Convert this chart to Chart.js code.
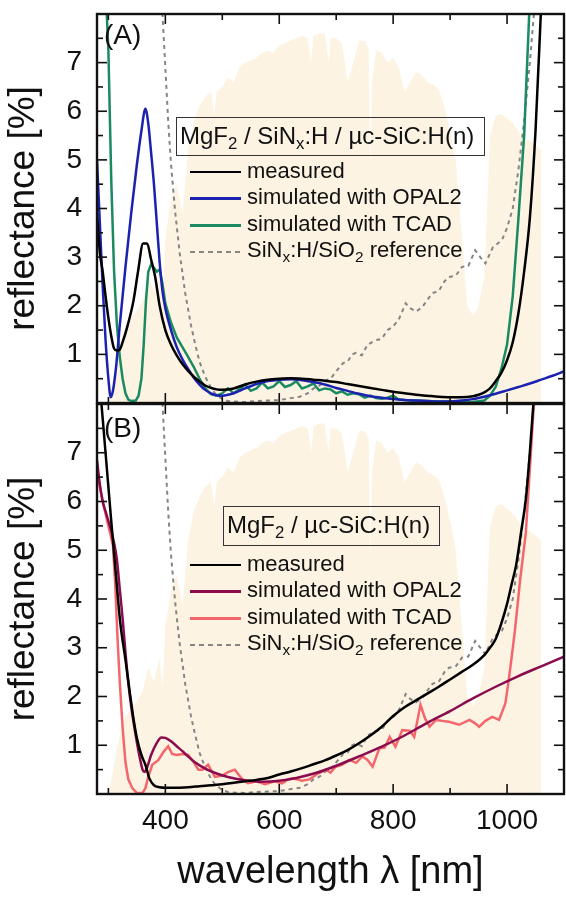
<!DOCTYPE html>
<html>
<head>
<meta charset="utf-8">
<title>Reflectance</title>
<script src="https://cdn.jsdelivr.net/npm/chart.js@4.4.1/dist/chart.umd.min.js"></script>
<style>
  body { margin: 0; background: #fff; font-family: "Liberation Sans", Arial, sans-serif; color: #111; }
  #wrap { position: relative; width: 566px; height: 898px; overflow: hidden; }
  canvas { position: absolute; left: 0; }
  #chartA { top: 0; z-index: 1; }
  #chartB { top: 398px; z-index: 2; }
  .txt { position: absolute; white-space: nowrap; z-index: 3; }
  .box { border: 1.5px solid #333; font-size: 24px; line-height: 36px; padding: 0 3px; box-sizing: border-box; }
  .row { font-size: 22px; line-height: 26px; }
  .panel { font-size: 28px; line-height: 32px; }
  .sw { position: absolute; width: 51px; height: 2.5px; z-index: 3; }
  .sub { font-size: 0.7em; position: relative; top: 0.32em; }
</style>
</head>
<body>
<div id="wrap">
  <canvas id="chartA" width="566" height="410"></canvas>
  <canvas id="chartB" width="566" height="500"></canvas>
</div>
<script>
// axis ticks
const xTickValues = [400, 600, 800, 1000];
const yTickValues = [1, 2, 3, 4, 5, 6, 7];

// AM1.5 photon flux, arbitrary scale (background)
const spectrum = [
  [300, 0], [305, 0.3], [310, 0.6], [315, 0.9], [320, 1.2], [330, 1.6], [340, 1.75], [350, 1.9],
  [360, 2.1], [370, 2.6], [380, 2.3], [390, 2.8], [395, 2.2], [400, 3.4], [410, 4.2], [420, 4.5],
  [430, 3.9], [440, 5.2], [450, 5.8], [460, 6.1], [470, 6.3], [480, 6.4], [486, 5.9], [490, 6.4],
  [500, 6.5], [510, 6.7], [520, 6.6], [530, 6.9], [540, 7.0], [550, 7.05], [560, 7.1], [570, 7.2],
  [580, 7.25], [590, 7.2], [600, 7.35], [610, 7.4], [620, 7.45], [630, 7.5], [640, 7.55], [650, 7.5],
  [656, 7.0], [660, 7.55], [670, 7.6], [680, 7.6], [687, 7.0], [690, 7.5], [700, 7.5], [710, 7.4],
  [720, 6.6], [730, 7.0], [740, 7.45], [750, 7.45], [757, 7.3], [760, 4.8], [763, 6.6], [770, 7.25],
  [780, 7.2], [790, 7.0], [800, 7.1], [810, 6.9], [820, 6.4], [830, 6.6], [840, 6.8], [850, 6.75],
  [860, 6.6], [870, 6.55], [880, 6.45], [890, 6.1], [900, 5.6], [910, 5.0], [920, 3.5], [930, 2.0],
  [940, 1.8], [950, 2.0], [960, 2.6], [965, 4.0], [970, 5.5], [980, 5.9], [990, 5.95], [1000, 5.85],
  [1010, 5.75], [1020, 5.6], [1030, 5.4], [1040, 5.4], [1050, 5.3], [1060, 5.2]
];

// (A) MgF2 / SiNx:H / uc-SiC:H(n)
const measuredA = [
  [280, 3.9], [285, 3.1], [290, 2.7], [295, 2.2], [300, 1.75], [305, 1.38], [310, 1.12], [315, 1.08],
  [320, 1.1], [325, 1.25], [333, 1.56], [344, 2.1], [352, 2.7], [361, 3.28], [368, 3.28], [375, 2.95],
  [382, 2.6], [390, 2.0], [400, 1.5], [410, 1.2], [420, 0.98], [430, 0.8], [440, 0.66], [450, 0.54],
  [460, 0.44], [470, 0.36], [480, 0.31], [490, 0.28], [500, 0.27], [520, 0.3], [540, 0.38], [560, 0.44],
  [580, 0.48], [600, 0.5], [620, 0.51], [640, 0.5], [660, 0.48], [680, 0.46], [700, 0.43], [720, 0.39],
  [740, 0.35], [760, 0.31], [780, 0.27], [800, 0.23], [820, 0.2], [840, 0.17], [860, 0.15], [880, 0.13],
  [900, 0.12], [920, 0.12], [940, 0.14], [950, 0.17], [960, 0.22], [970, 0.3], [980, 0.45], [990, 0.62],
  [1000, 0.88], [1010, 1.25], [1020, 1.85], [1030, 2.7], [1040, 3.8], [1050, 5.6], [1060, 8.2]
];
const opalA = [
  [280, 5.0], [285, 3.7], [290, 2.4], [295, 1.3], [300, 0.5], [304, 0.12], [308, 0.25], [314, 0.8],
  [320, 1.6], [330, 2.8], [340, 3.9], [350, 4.9], [358, 5.6], [365, 6.05], [370, 5.75], [375, 5.15],
  [380, 4.5], [385, 3.7], [390, 2.9], [395, 2.3], [400, 1.95], [410, 1.5], [420, 1.15], [430, 0.9],
  [440, 0.7], [450, 0.52], [460, 0.38], [470, 0.27], [480, 0.2], [490, 0.16], [500, 0.15], [520, 0.2],
  [540, 0.3], [560, 0.39], [580, 0.45], [600, 0.48], [620, 0.49], [640, 0.47], [660, 0.43], [680, 0.38],
  [700, 0.31], [720, 0.25], [740, 0.19], [760, 0.14], [780, 0.11], [800, 0.08], [820, 0.06], [840, 0.05],
  [860, 0.04], [880, 0.03], [900, 0.03], [920, 0.05], [940, 0.08], [960, 0.13], [980, 0.19], [1000, 0.26],
  [1020, 0.33], [1040, 0.4], [1060, 0.48], [1080, 0.56], [1100, 0.65]
];
const tcadA = [
  [280, 11], [290, 9.5], [296, 8.3], [300, 7.25], [305, 4.6], [310, 2.7], [315, 1.6], [320, 0.95],
  [325, 0.5], [330, 0.2], [335, 0.07], [340, 0.04], [348, 0.05], [353, 0.15], [358, 0.5], [362, 1.2],
  [366, 2.1], [370, 2.7], [375, 2.85], [380, 2.78], [385, 2.7], [390, 2.75], [395, 2.45], [400, 2.05],
  [410, 1.65], [420, 1.35], [430, 1.15], [440, 0.95], [450, 0.74], [460, 0.5], [470, 0.3], [480, 0.18],
  [490, 0.15], [500, 0.2], [510, 0.3], [520, 0.2], [530, 0.28], [540, 0.38], [550, 0.25], [560, 0.3],
  [570, 0.42], [580, 0.3], [590, 0.34], [600, 0.45], [610, 0.33], [620, 0.37], [630, 0.45], [640, 0.3],
  [650, 0.34], [660, 0.4], [670, 0.26], [680, 0.3], [690, 0.28], [700, 0.2], [710, 0.24], [720, 0.17],
  [730, 0.2], [740, 0.18], [750, 0.11], [760, 0.15], [770, 0.1], [780, 0.09], [790, 0.11], [800, 0.15],
  [810, 0.07], [820, 0.06], [840, 0.05], [860, 0.04], [880, 0.03], [900, 0.03], [920, 0.02], [940, 0.02],
  [960, 0.05], [970, 0.15], [980, 0.33], [990, 0.7], [1000, 1.2], [1010, 2.2], [1020, 3.8], [1030, 5.5],
  [1040, 8.3]
];

// SiNx:H/SiO2 reference (both panels)
const reference = [
  [390, 9.5], [395, 8.0], [400, 6.9], [405, 5.8], [410, 4.9], [417, 3.96], [425, 3.1], [435, 2.25],
  [445, 1.6], [452, 1.23], [460, 0.85], [470, 0.54], [480, 0.32], [487, 0.2], [500, 0.08], [510, 0.04],
  [520, 0.03], [540, 0.02], [560, 0.04], [580, 0.05], [600, 0.06], [620, 0.1], [636, 0.13], [650, 0.2],
  [660, 0.3], [670, 0.35], [682, 0.47], [690, 0.5], [700, 0.65], [712, 0.82], [720, 0.85], [728, 1.0],
  [735, 1.03], [745, 0.98], [755, 1.2], [769, 1.29], [780, 1.32], [790, 1.5], [799, 1.56], [810, 1.72],
  [822, 2.05], [830, 1.95], [840, 1.88], [851, 1.97], [860, 2.12], [869, 2.26], [880, 2.3], [890, 2.5],
  [898, 2.59], [910, 2.62], [921, 2.8], [932, 2.82], [944, 3.14], [953, 3.0], [962, 2.87], [975, 3.2],
  [991, 3.35], [1000, 3.6], [1010, 4.0], [1020, 4.8], [1030, 5.8], [1040, 7.0], [1050, 8.4]
];

// (B) MgF2 / uc-SiC:H(n)
const measuredB = [
  [280, 9.2], [285, 8.4], [290, 7.7], [295, 7.0], [300, 6.3], [305, 5.6], [312, 4.66], [321, 3.5],
  [330, 2.75], [338, 2.05], [344, 1.55], [350, 1.15], [358, 0.8], [365, 0.6], [372, 0.32], [380, 0.18],
  [390, 0.14], [400, 0.13], [420, 0.13], [440, 0.14], [460, 0.16], [480, 0.18], [500, 0.2], [520, 0.23],
  [540, 0.26], [560, 0.29], [580, 0.33], [600, 0.4], [620, 0.46], [640, 0.53], [660, 0.61], [680, 0.69],
  [700, 0.79], [720, 0.9], [740, 1.04], [760, 1.2], [780, 1.38], [800, 1.6], [820, 1.78], [840, 1.92],
  [860, 2.06], [880, 2.2], [900, 2.35], [920, 2.5], [940, 2.65], [960, 2.85], [970, 3.0], [980, 3.18],
  [990, 3.5], [1000, 3.9], [1008, 4.3], [1016, 4.7], [1025, 5.4], [1033, 6.05], [1040, 7.0], [1048, 8.3]
];
const opalB = [
  [280, 6.85], [285, 6.35], [290, 6.0], [295, 5.8], [300, 5.6], [305, 5.4], [310, 5.15], [315, 4.8],
  [320, 4.2], [325, 3.6], [330, 2.9], [335, 2.28], [340, 1.8], [348, 1.2], [355, 0.75], [360, 0.5],
  [363, 0.45], [368, 0.55], [375, 0.8], [385, 1.05], [393, 1.16], [400, 1.15], [410, 1.08], [420, 0.98],
  [430, 0.88], [440, 0.77], [452, 0.65], [470, 0.52], [490, 0.42], [510, 0.35], [540, 0.28], [570, 0.25],
  [600, 0.27], [630, 0.33], [664, 0.43], [700, 0.58], [740, 0.77], [780, 0.97], [820, 1.2], [860, 1.46],
  [900, 1.7], [940, 1.96], [980, 2.2], [1020, 2.42], [1060, 2.62], [1100, 2.82]
];
const tcadB = [
  [280, 6.6], [290, 6.0], [300, 5.5], [305, 5.25], [308, 5.1], [312, 4.3], [316, 3.2], [320, 2.3],
  [325, 1.35], [330, 0.65], [335, 0.3], [342, 0.12], [350, 0.02], [360, 0.02], [365, 0.12], [370, 0.35],
  [377, 0.6], [388, 0.7], [396, 0.85], [405, 0.98], [412, 0.82], [420, 0.8], [430, 0.82], [440, 0.8],
  [450, 0.65], [458, 0.5], [465, 0.5], [475, 0.6], [487, 0.35], [500, 0.38], [510, 0.45], [522, 0.5],
  [535, 0.3], [545, 0.22], [560, 0.26], [575, 0.2], [592, 0.26], [605, 0.22], [615, 0.3], [624, 0.32],
  [640, 0.27], [653, 0.3], [668, 0.42], [682, 0.5], [690, 0.44], [699, 0.56], [710, 0.6], [723, 0.7],
  [735, 0.64], [746, 0.77], [755, 0.7], [764, 0.56], [770, 0.75], [776, 0.94], [785, 0.95], [794, 1.17],
  [804, 0.97], [816, 1.31], [829, 1.3], [837, 1.17], [848, 1.83], [856, 1.55], [864, 1.38], [875, 1.52],
  [886, 1.5], [898, 1.48], [916, 1.42], [934, 1.52], [944, 1.45], [951, 1.38], [962, 1.5], [974, 1.58],
  [986, 1.52], [997, 1.86], [1003, 2.34], [1008, 2.8], [1014, 3.37], [1023, 4.4], [1033, 5.36], [1044, 7.4],
  [1050, 8.6]
];

const legendA = [
  { label: 'measured', color: '#000' },
  { label: 'simulated with OPAL2', color: '#1c22b0' },
  { label: 'simulated with TCAD', color: '#1a8a60' },
  { label: 'SiN<span class="sub">x</span>:H/SiO<span class="sub">2</span> reference', color: '#858585', dash: true }
];
const legendB = [
  { label: 'measured', color: '#000' },
  { label: 'simulated with OPAL2', color: '#8a0c4e' },
  { label: 'simulated with TCAD', color: '#f4666c' },
  { label: 'SiN<span class="sub">x</span>:H/SiO<span class="sub">2</span> reference', color: '#858585', dash: true }
];

Chart.defaults.font.family = '"Liberation Sans", Arial, sans-serif';
Chart.defaults.color = '#111';

const toXY = pairs => pairs.map(([x, y]) => ({ x, y }));

const curve = (pairs, color, order, extra) => Object.assign({
  data: toXY(pairs),
  borderColor: color,
  borderWidth: 2.5,
  pointRadius: 0,
  fill: false,
  tension: 0,
  order: order
}, extra);

const spectrumSet = () => ({
  data: toXY(spectrum),
  borderWidth: 0,
  pointRadius: 0,
  backgroundColor: '#fdf3e2',
  fill: 'origin',
  order: 10
});

// frame and inward tick marks on all four sides
const frameTicks = {
  id: 'frameTicks',
  afterDatasetsDraw(chart) {
    const { ctx, chartArea: a, scales: { x, y } } = chart;
    const seg = (x1, y1, x2, y2) => { ctx.beginPath(); ctx.moveTo(x1, y1); ctx.lineTo(x2, y2); ctx.stroke(); };
    ctx.save();
    ctx.strokeStyle = '#111';
    ctx.lineWidth = 1.6;
    for (let v = 300; v <= 1100; v += 100) {
      const px = x.getPixelForValue(v);
      const len = v % 200 === 0 ? 10 : 6;
      seg(px, a.top, px, a.top + len);
      seg(px, a.bottom, px, a.bottom - len);
    }
    for (let v = 0.5; v < 8; v += 0.5) {
      const py = y.getPixelForValue(v);
      const len = Number.isInteger(v) ? 10 : 6;
      seg(a.left, py, a.left + len, py);
      seg(a.right, py, a.right - len, py);
    }
    ctx.lineWidth = 2.4;
    ctx.strokeRect(a.left, a.top, a.right - a.left, a.bottom - a.top);
    ctx.restore();
  }
};

const noPad = s => { s.paddingTop = 0; s.paddingBottom = 0; s.paddingLeft = 0; s.paddingRight = 0; };

const makeChart = (id, datasets, showX, padding) => {
  const xScale = {
    type: 'linear', min: 280, max: 1100, display: showX,
    grid: { display: false, drawTicks: false },
    border: { display: false },
    afterBuildTicks: s => { s.ticks = xTickValues.map(v => ({ value: v })); },
    afterFit: s => { noPad(s); if (showX) s.height = 104; }
  };
  if (showX) {
    Object.assign(xScale, {
      ticks: { padding: 10, font: { size: 28 }, maxRotation: 0, autoSkip: false, callback: v => String(v) },
      title: { display: true, text: 'wavelength λ [nm]', font: { size: 38 }, padding: { top: 0, bottom: 3 } }
    });
  }
  return new Chart(document.getElementById(id), {
    type: 'line',
    data: { datasets },
    options: {
      responsive: false,
      animation: false,
      devicePixelRatio: 1,
      layout: { padding },
      plugins: { legend: { display: false }, tooltip: { enabled: false } },
      scales: {
        x: xScale,
        y: {
          min: 0, max: 8,
          grid: { display: false, drawTicks: false },
          border: { display: false },
          afterBuildTicks: s => { s.ticks = yTickValues.map(v => ({ value: v })); },
          afterFit: s => { noPad(s); s.width = 97; },
          ticks: { padding: 15, font: { size: 28 } },
          title: { display: true, text: 'reflectance [%]', font: { size: 37 }, padding: { top: 2, bottom: 0 } }
        }
      }
    },
    plugins: [frameTicks]
  });
};

makeChart('chartA', [
  curve(measuredA, '#000', 1, { cubicInterpolationMode: 'monotone' }),
  curve(opalA, legendA[1].color, 2, { cubicInterpolationMode: 'monotone' }),
  curve(tcadA, legendA[2].color, 3),
  curve(reference, '#858585', 4, { borderWidth: 2, borderDash: [4, 4] }),
  spectrumSet()
], false, { top: 14, right: 2, bottom: 7, left: 0 });

makeChart('chartB', [
  curve(measuredB, '#000', 1, { cubicInterpolationMode: 'monotone' }),
  curve(opalB, legendB[1].color, 2, { cubicInterpolationMode: 'monotone' }),
  curve(tcadB, legendB[2].color, 3),
  curve(reference, '#858585', 4, { borderWidth: 2, borderDash: [4, 4] }),
  spectrumSet()
], true, { top: 6, right: 2, bottom: 0, left: 0 });

// legends and panel labels as HTML text
const wrap = document.getElementById('wrap');
const addText = (cls, html, left, top, w, h) => {
  const d = document.createElement('div');
  d.className = 'txt ' + cls;
  d.innerHTML = html;
  d.style.left = left + 'px';
  d.style.top = top + 'px';
  if (w) d.style.width = w + 'px';
  if (h) d.style.height = h + 'px';
  wrap.appendChild(d);
};
const addLegend = (items, rowTop) => {
  items.forEach((it, i) => {
    const yc = rowTop + i * 26.6;
    const sw = document.createElement('div');
    sw.className = 'sw';
    sw.style.left = '190px';
    sw.style.top = (yc - 1.2) + 'px';
    sw.style.background = it.dash
      ? `repeating-linear-gradient(to right, ${it.color} 0 5px, transparent 5px 9px)`
      : it.color;
    if (it.dash) sw.style.height = '2px';
    wrap.appendChild(sw);
    addText('row', it.label, 247, yc - 14.5);
  });
};

addText('panel', '(A)', 104, 19);
addText('panel', '(B)', 104, 412);
addText('box', 'MgF<span class="sub">2</span> / SiN<span class="sub">x</span>:H / µc-SiC:H(n)', 176, 117, 309, 39);
addText('box', 'MgF<span class="sub">2</span> / µc-SiC:H(n)', 223, 506, 217, 40);
addLegend(legendA, 172);
addLegend(legendB, 565);
</script>
</body>
</html>
